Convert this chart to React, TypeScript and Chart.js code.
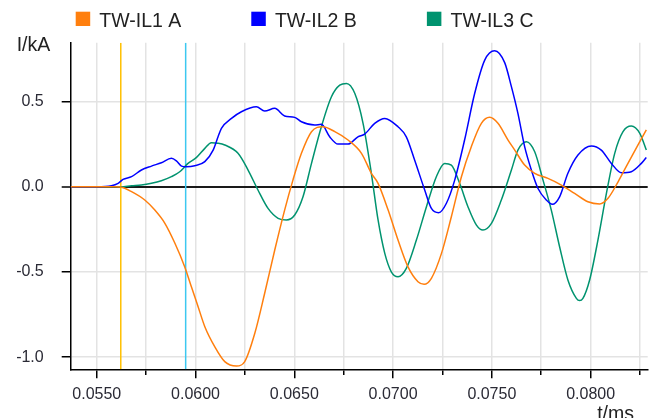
import { useEffect, useRef } from 'react';
import { Chart, registerables } from 'chart.js';

Chart.register(...registerables);

const seriesNames = ['TW-IL1 A', 'TW-IL2 B', 'TW-IL3 C'];
const seriesColors = ['#ff7f0e', '#0000ff', '#00936f'];

const timeA = [0.05368,0.05500,0.05591,0.05621,0.05676,0.05743,0.05794,0.05844,0.05895,0.05945,0.05979,0.06013,0.06047,0.06097,0.06148,0.06207,0.06249,0.06300,0.06350,0.06401,0.06451,0.06493,0.06536,0.06587,0.06645,0.06705,0.06772,0.06840,0.06890,0.06924,0.06975,0.07025,0.07075,0.07126,0.07157,0.07194,0.07245,0.07295,0.07346,0.07396,0.07447,0.07489,0.07531,0.07582,0.07616,0.07666,0.07717,0.07784,0.07852,0.07919,0.07986,0.08046,0.08088,0.08139,0.08189,0.08240,0.08282];
const currentA = [0,0,0,-0.002,-0.029,-0.078,-0.137,-0.213,-0.330,-0.469,-0.587,-0.704,-0.821,-0.938,-1.026,-1.052,-1.026,-0.860,-0.625,-0.371,-0.137,0.039,0.196,0.323,0.352,0.323,0.274,0.196,0.079,0.020,-0.137,-0.313,-0.469,-0.557,-0.572,-0.537,-0.391,-0.176,0.059,0.235,0.372,0.407,0.372,0.274,0.215,0.127,0.079,0.049,0.010,-0.039,-0.088,-0.101,-0.068,0.029,0.137,0.245,0.333];

const timeB = [0.05368,0.05500,0.05574,0.05608,0.05633,0.05676,0.05726,0.05777,0.05827,0.05878,0.05903,0.05929,0.05954,0.05996,0.06047,0.06089,0.06114,0.06131,0.06182,0.06232,0.06308,0.06350,0.06401,0.06451,0.06502,0.06536,0.06603,0.06637,0.06679,0.06721,0.06772,0.06822,0.06856,0.06907,0.06958,0.07025,0.07067,0.07109,0.07160,0.07194,0.07231,0.07270,0.07312,0.07362,0.07413,0.07464,0.07514,0.07565,0.07599,0.07632,0.07666,0.07700,0.07733,0.07776,0.07806,0.07843,0.07885,0.07936,0.08004,0.08054,0.08105,0.08156,0.08206,0.08257,0.08282];
const currentB = [0,0,0.006,0.020,0.043,0.059,0.098,0.121,0.141,0.167,0.152,0.121,0.117,0.123,0.147,0.215,0.293,0.343,0.401,0.440,0.469,0.444,0.460,0.415,0.407,0.381,0.362,0.366,0.293,0.250,0.250,0.293,0.309,0.372,0.401,0.352,0.293,0.157,-0.019,-0.127,-0.152,-0.097,0.039,0.274,0.547,0.743,0.798,0.728,0.587,0.430,0.235,0.098,-0.009,-0.078,-0.103,-0.059,0.079,0.186,0.239,0.215,0.137,0.082,0.088,0.137,0.172];

const timeC = [0.05368,0.05621,0.05676,0.05726,0.05777,0.05827,0.05878,0.05920,0.05962,0.06005,0.06047,0.06080,0.06114,0.06148,0.06215,0.06266,0.06316,0.06367,0.06418,0.06460,0.06502,0.06544,0.06587,0.06637,0.06688,0.06730,0.06764,0.06806,0.06848,0.06890,0.06924,0.06958,0.06991,0.07025,0.07067,0.07118,0.07169,0.07219,0.07261,0.07295,0.07337,0.07379,0.07422,0.07455,0.07498,0.07548,0.07599,0.07632,0.07675,0.07717,0.07759,0.07801,0.07843,0.07885,0.07928,0.07944,0.07961,0.07995,0.08037,0.08080,0.08122,0.08164,0.08206,0.08249,0.08282];
const currentC = [0,0,0.006,0.010,0.020,0.035,0.059,0.088,0.137,0.172,0.225,0.258,0.255,0.245,0.196,0.098,-0.019,-0.127,-0.185,-0.195,-0.166,-0.059,0.137,0.352,0.528,0.596,0.606,0.548,0.372,0.079,-0.195,-0.391,-0.499,-0.528,-0.479,-0.313,-0.117,0.059,0.137,0.127,0.020,-0.117,-0.225,-0.254,-0.215,-0.078,0.098,0.215,0.264,0.205,0.039,-0.137,-0.352,-0.547,-0.655,-0.668,-0.655,-0.547,-0.313,-0.039,0.196,0.323,0.356,0.313,0.215];

const markerTimes = [0.056215, 0.0595];
const markerColors = ['#ffc000', '#3cc8f0'];

const xMin = 0.05368;
const xMax = 0.08289;
const xStep = 0.0025;
const xLabelStep = 0.005;
const yMin = -1.071;
const yMax = 0.845;
const yStep = 0.5;

const yTitle = 'I/kA';
const xTitle = 't/ms';

const FONT = '"Liberation Sans", Arial, Helvetica, sans-serif';

const isMajorX = (v: number) => {
  const r = v / xLabelStep;
  return Math.abs(r - Math.round(r)) < 1e-6;
};

const overlayPlugin = {
  id: 'overlayText',
  afterDraw(chart: any) {
    const ctx = chart.ctx as CanvasRenderingContext2D;
    ctx.save();
    ctx.font = `19.5px ${FONT}`;
    ctx.fillStyle = '#222';
    ctx.textBaseline = 'alphabetic';
    ctx.textAlign = 'left';
    ctx.fillText(yTitle, 16.7, 50.5);
    ctx.textAlign = 'right';
    ctx.fillText(xTitle, 634, 420);
    ctx.textAlign = 'left';
    let x = 75.7;
    seriesNames.forEach((name, i) => {
      ctx.fillStyle = seriesColors[i];
      ctx.fillRect(x, 11.7, 14.5, 14.3);
      ctx.fillStyle = '#222';
      ctx.fillText(name, x + 23.6, 26.7);
      x += 23.6 + ctx.measureText(name).width + 70;
    });
    ctx.restore();
  },
};

export default function App() {
  const ref = useRef<HTMLCanvasElement | null>(null);
  useEffect(() => {
    if (!ref.current) return;
    Chart.defaults.font.family = FONT;
    const times = [timeA, timeB, timeC];
    const currents = [currentA, currentB, currentC];
    const seriesSets = seriesNames.map((name, i) => ({
      label: name,
      data: times[i].map((t, j) => ({ x: t, y: currents[i][j] })),
      borderColor: seriesColors[i],
      backgroundColor: seriesColors[i],
      borderWidth: 1.5,
      pointRadius: 0,
      cubicInterpolationMode: 'monotone' as const,
      fill: false,
    }));
    const markerSets = markerTimes.map((t, i) => ({
      label: 'marker' + i,
      data: [{ x: t, y: yMin }, { x: t, y: yMax }],
      borderColor: markerColors[i],
      backgroundColor: markerColors[i],
      borderWidth: 1.5,
      pointRadius: 0,
      tension: 0,
      fill: false,
    }));
    const chart = new Chart(ref.current, {
      type: 'line',
      data: { datasets: [...seriesSets, ...markerSets] as any },
      plugins: [overlayPlugin],
      options: {
        animation: false,
        responsive: true,
        maintainAspectRatio: false,
        layout: { padding: { top: 42.7, right: 9.3, left: 0, bottom: 0 } },
        plugins: { legend: { display: false }, tooltip: { enabled: false } },
        scales: {
          x: {
            type: 'linear',
            min: xMin,
            max: xMax,
            afterFit: (s: any) => { s.height = 48.7; },
            ticks: {
              stepSize: xStep,
              includeBounds: false,
              autoSkip: false,
              maxRotation: 0,
              padding: 7,
              color: '#2a2a35',
              font: { size: 16, family: FONT },
              callback: (v: any) => (isMajorX(Number(v)) ? Number(v).toFixed(4) : ''),
            },
            grid: {
              color: '#e3e3e3',
              lineWidth: 1.5,
              tickColor: '#000',
              tickLength: 9,
              tickWidth: 1.5,
              tickBorderDash: (c: any) => (c.tick && isMajorX(c.tick.value) ? [] : [4.5, 60]),
            } as any,
            border: { color: '#000', width: 1.5 },
          },
          y: {
            type: 'linear',
            min: yMin,
            max: yMax,
            afterFit: (s: any) => { s.width = 70.7; },
            ticks: {
              stepSize: yStep,
              includeBounds: false,
              padding: 18,
              color: '#2a2a35',
              font: { size: 16, family: FONT },
              callback: (v: any) => Number(v).toFixed(1),
            },
            grid: {
              color: (c: any) => (c.tick && Math.abs(c.tick.value) < 1e-9 ? '#1a1a1a' : '#e3e3e3'),
              lineWidth: (c: any) => (c.tick && Math.abs(c.tick.value) < 1e-9 ? 2 : 1.5),
              tickColor: '#000',
              tickLength: 9,
              tickWidth: 1.5,
            } as any,
            border: { color: '#000', width: 1.5 },
          },
        },
      },
    });
    return () => chart.destroy();
  }, []);
  return (
    <div style={{ position: 'absolute', left: 0, top: 0, width: 657, height: 418 }}>
      <canvas ref={ref} />
    </div>
  );
}
